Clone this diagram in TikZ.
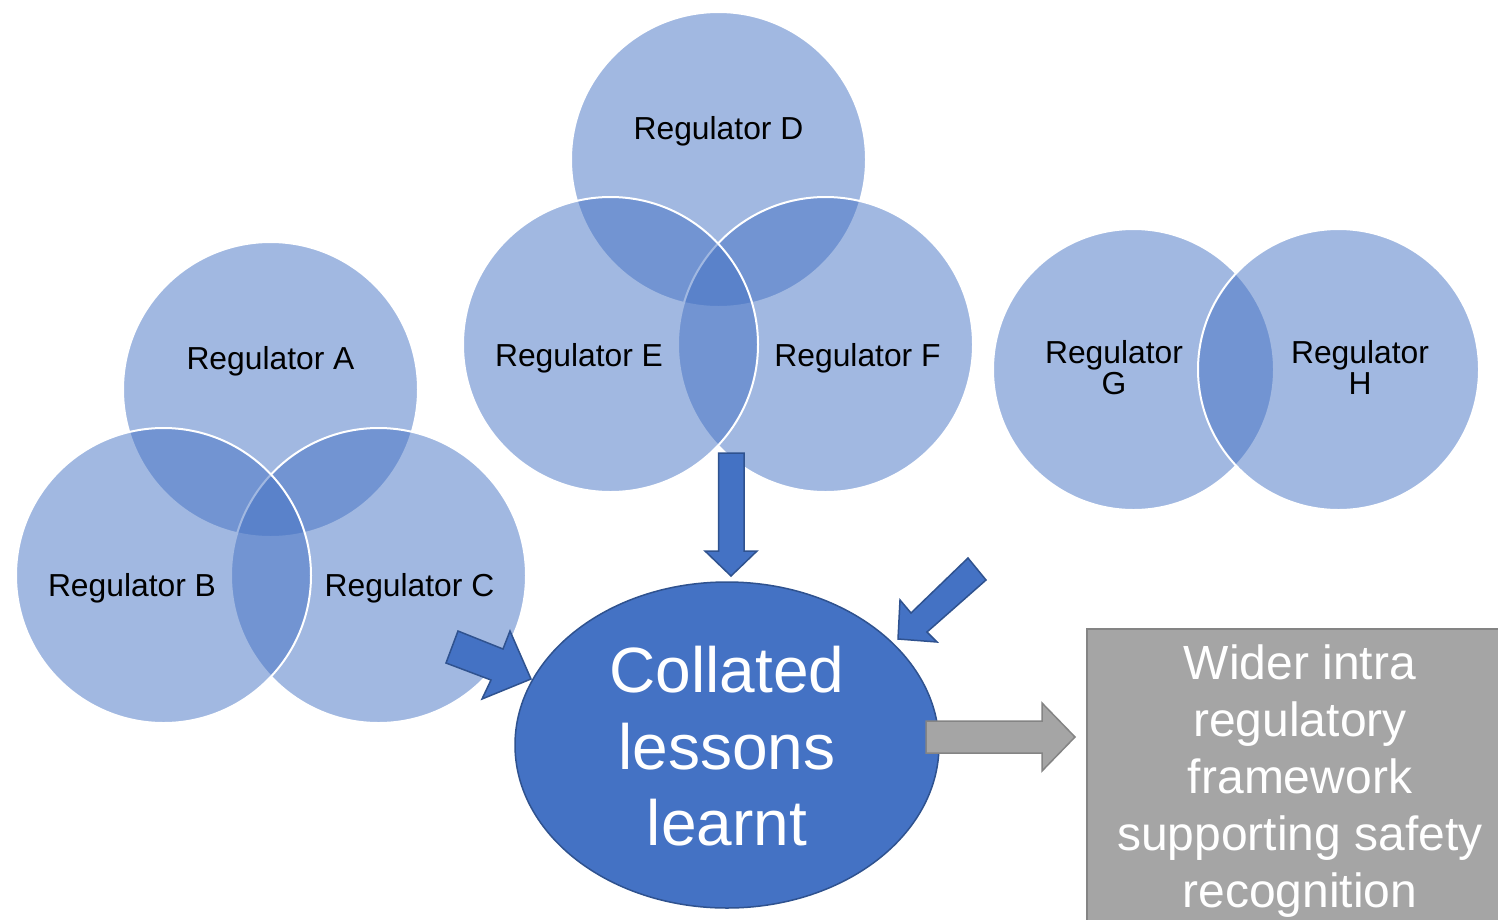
\documentclass[tikz,border=0pt]{standalone}
\usepackage{fontspec}
\setmainfont{Liberation Sans}
\definecolor{accent}{HTML}{4472C4}
\definecolor{accentdark}{HTML}{2F528F}
\definecolor{boxgray}{HTML}{A5A5A5}
\definecolor{boxedge}{HTML}{848484}
\tikzset{
  venn/.style={fill=accent, fill opacity=0.5, draw=white, line width=2pt},
  reglabel/.style={anchor=base, inner sep=0pt, text=black, font=\fontsize{31.8}{31.5}\selectfont, align=center},
  blockarrow/.style={fill=accent, draw=accentdark, line width=1.5pt, line join=miter},
  grayarrow/.style={fill=boxgray, draw=boxedge, line width=1.5pt, line join=miter},
}
\begin{document}
\begin{tikzpicture}[x=1pt,y=-1pt]
\useasboundingbox (0,0) rectangle (1498,919);
\clip (0,0) rectangle (1498,919);
\fill[white] (0,0) rectangle (1498,919);

% group A B C (order A, C, B)
\path[venn] (270.5,389.5) circle[radius=147.5];
\path[venn] (378.5,575.5) circle[radius=147.5];
\path[venn] (163.5,575.5) circle[radius=147.5];
% group D E F (order D, F, E)
\path[venn] (718.5,159.5) circle[radius=147.5];
\path[venn] (825.5,344.5) circle[radius=147.5];
\path[venn] (610.5,344.5) circle[radius=147.5];
% group G H (order G, H)
\path[venn] (1133.5,369.5) circle[radius=140.5];
\path[venn] (1338.5,369.5) circle[radius=140.5];

\node[reglabel] (rA) at (270.5,369) {Regulator A};
\node[reglabel] (rB) at (132,596) {Regulator B};
\node[reglabel] (rC) at (409.5,596) {Regulator C};
\node[reglabel] (rD) at (718.5,139.5) {Regulator D};
\node[reglabel] (rE) at (579,366) {Regulator E};
\node[reglabel] (rF) at (857.5,366) {Regulator F};
\node[reglabel, anchor=north] (rG) at (1114,340) {Regulator\\G};
\node[reglabel, anchor=north] (rH) at (1360,340) {Regulator\\H};

% block arrows into the ellipse
\draw[blockarrow] (718.5,453) -- (744,453) -- (744,551) -- (757,551) -- (731,576) -- (705,551) -- (718.5,551) -- cycle;
\draw[blockarrow] (968,558) -- (911,613) -- (900,600) -- (898,639) -- (937,642) -- (927,632) -- (986,580) -- cycle;
\draw[blockarrow] (458,631) -- (503,649) -- (510,631) -- (531,679) -- (482,699) -- (491,680) -- (446,663) -- cycle;

% central ellipse
\draw[fill=accent, draw=accentdark, line width=1.5pt] (727,745) ellipse[x radius=212, y radius=163];
\node[anchor=north, inner sep=0pt, text=white, align=center, font=\fontsize{64}{76.5}\selectfont] (coll) at (727,646) {Collated\\lessons\\learnt};

% gray arrow
\draw[grayarrow] (926,721) -- (1042,721) -- (1042,703) -- (1075,737) -- (1042,771) -- (1042,753) -- (926,753) -- cycle;

% gray box
\draw[fill=boxgray, draw=boxedge, line width=2pt] (1087,629) rectangle (1513,960);
\node[anchor=north, inner sep=0pt, text=white, align=center, font=\fontsize{48}{57}\selectfont] (wider) at (1300,645) {Wider intra\\regulatory\\framework\\supporting safety\\recognition};
\end{tikzpicture}
\end{document}
